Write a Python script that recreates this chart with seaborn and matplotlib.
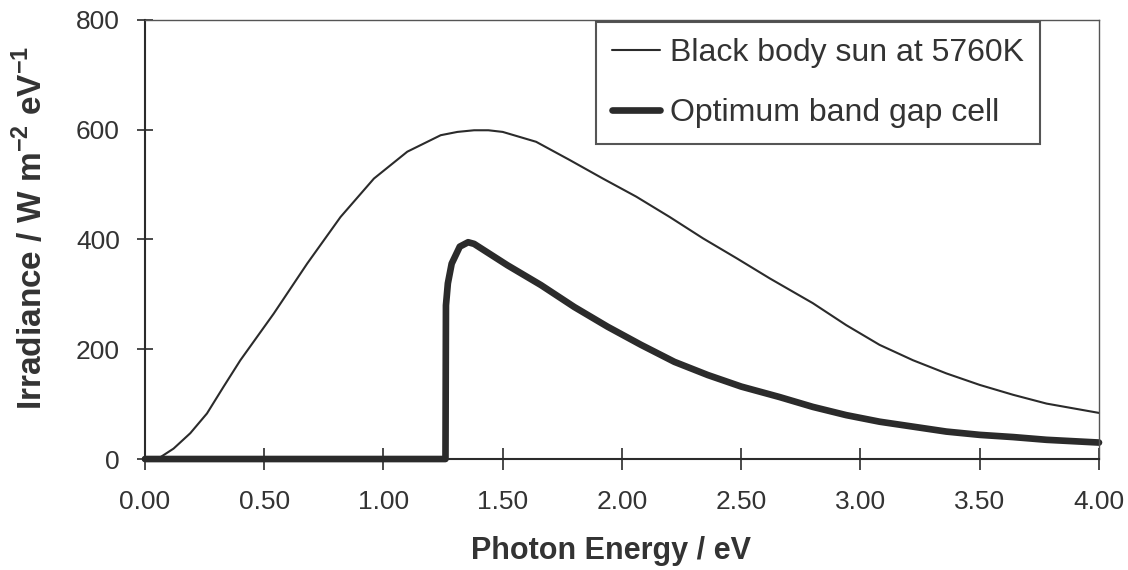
import matplotlib
matplotlib.use("Agg")
import matplotlib.pyplot as plt
import seaborn as sns
import pandas as pd

# Black body spectrum of the sun (5760 K), irradiance per unit photon energy
sun_energy = [0.00, 0.06, 0.12, 0.19, 0.26, 0.33, 0.40, 0.54, 0.68, 0.82, 0.96,
              1.10, 1.24, 1.31, 1.38, 1.44, 1.50, 1.64, 1.78, 1.92, 2.06, 2.20,
              2.34, 2.48, 2.62, 2.80, 2.94, 3.08, 3.22, 3.36, 3.50, 3.64, 3.78,
              4.00]
sun_irradiance = [0, 2, 19, 47, 83, 132, 180, 265, 356, 441, 511,
                  560, 590, 596, 599, 599, 596, 578, 545, 511, 478, 441,
                  402, 366, 329, 284, 244, 208, 180, 156, 135, 117, 101,
                  84]

# Power delivered by a cell with the optimum band gap
cell_energy = [0.00, 1.26, 1.262, 1.27, 1.286, 1.32, 1.355, 1.38, 1.52, 1.66,
               1.80, 1.94, 2.08, 2.22, 2.36, 2.50, 2.66, 2.80, 2.94, 3.08,
               3.22, 3.36, 3.50, 3.64, 3.78, 4.00]
cell_irradiance = [0, 0, 280, 320, 356, 387, 395, 392, 353, 317,
                   277, 241, 208, 177, 153, 132, 113, 95, 80, 68,
                   59, 50, 44, 40, 35, 30]

x_ticks = [0.0, 0.5, 1.0, 1.5, 2.0, 2.5, 3.0, 3.5, 4.0]
y_ticks = [0, 200, 400, 600, 800]

sun_label = "Black body sun at 5760K"
cell_label = "Optimum band gap cell"

sns.set_style("ticks")
plt.rcParams["font.family"] = ["Liberation Sans", "DejaVu Sans"]
plt.rcParams["mathtext.fontset"] = "custom"
plt.rcParams["mathtext.rm"] = "Liberation Sans"
plt.rcParams["mathtext.bf"] = "Liberation Sans:bold"

ink = "#2b2b2b"
text_color = "#333333"

sun_df = pd.DataFrame({"energy": sun_energy, "irradiance": sun_irradiance})
cell_df = pd.DataFrame({"energy": cell_energy, "irradiance": cell_irradiance})

fig = plt.figure(figsize=(11.28, 5.70), dpi=100)
ax = fig.add_axes([0.1285, 0.1947, 0.8458, 0.7703])

sns.lineplot(data=sun_df, x="energy", y="irradiance", ax=ax, color=ink,
             linewidth=1.5, label=sun_label, sort=False, clip_on=False,
             solid_joinstyle="round")
sns.lineplot(data=cell_df, x="energy", y="irradiance", ax=ax, color=ink,
             linewidth=4.8, label=cell_label, sort=False, clip_on=False,
             solid_joinstyle="round")

ax.set_xlim(0, 4)
ax.set_ylim(0, 800)
ax.set_xticks(x_ticks)
ax.set_xticklabels([f"{v:.2f}" for v in x_ticks])
ax.set_yticks(y_ticks)
ax.set_yticklabels([str(v) for v in y_ticks])

ax.tick_params(axis="both", direction="inout", width=1.2,
               colors=ink, labelsize=19, labelcolor=text_color)
ax.tick_params(axis="x", length=16, pad=14)
ax.tick_params(axis="y", length=12, pad=12)

for side in ("left", "bottom"):
    ax.spines[side].set_color(ink)
    ax.spines[side].set_linewidth(1.5)
for side in ("top", "right"):
    ax.spines[side].set_visible(True)
    ax.spines[side].set_color("#555555")
    ax.spines[side].set_linewidth(1.0)

ax.set_xlabel("Photon Energy / eV", fontsize=22, fontweight="bold",
              color=text_color)
ax.xaxis.set_label_coords(0.488, -0.175)
ax.set_ylabel(r"Irradiance / W m$^{\mathbf{-2}}$ eV$^{\mathbf{-1}}$",
              fontsize=24, fontweight="bold", color=text_color)
ax.yaxis.set_label_coords(-0.1, 0.526)

leg = ax.legend(loc="upper right", bbox_to_anchor=(0.938, 0.995),
                borderaxespad=0, fontsize=23, frameon=True, fancybox=False,
                handlelength=1.5, handletextpad=0.3, labelspacing=0.95,
                borderpad=0.5)
leg.get_frame().set_edgecolor(ink)
leg.get_frame().set_linewidth(1.5)
for t in leg.get_texts():
    t.set_color(text_color)

fig.savefig("out.png", dpi=100, facecolor="white")
